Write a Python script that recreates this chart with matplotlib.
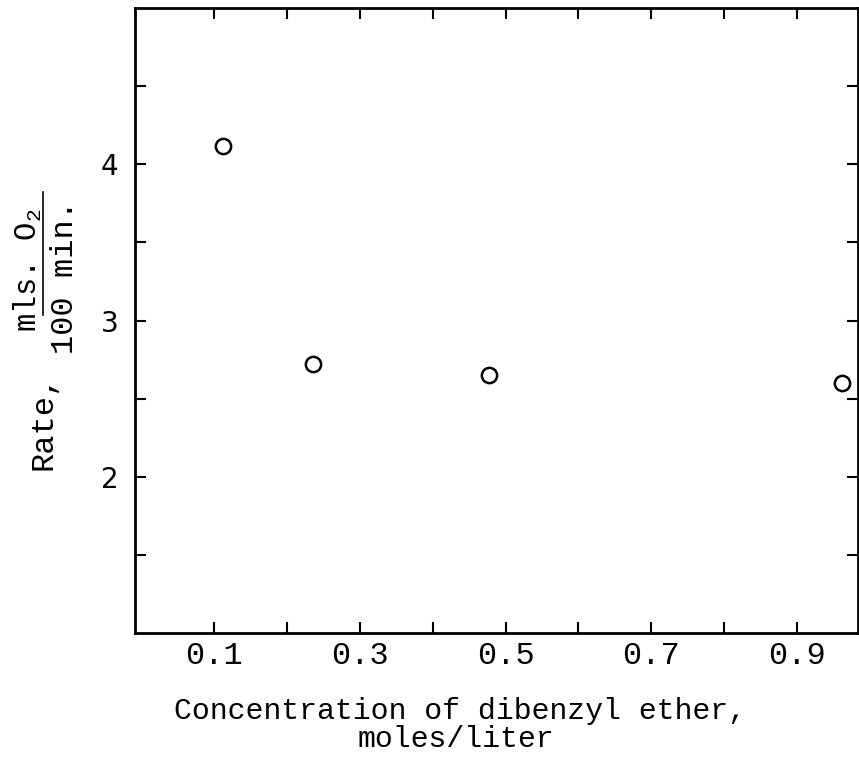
import matplotlib
matplotlib.use("Agg")
import matplotlib.pyplot as plt
from matplotlib.lines import Line2D

# Data
concentration = [0.112, 0.236, 0.477, 0.962]
rate = [4.12, 2.72, 2.65, 2.60]

x_ticks = [0.1, 0.2, 0.3, 0.4, 0.5, 0.6, 0.7, 0.8, 0.9]
x_tick_labels = ["0.1", "", "0.3", "", "0.5", "", "0.7", "", "0.9"]
y_ticks = [1.5, 2.0, 2.5, 3.0, 3.5, 4.0, 4.5]
y_tick_labels = ["", "2", "", "3", "", "4", ""]

mono = "Liberation Mono"
plt.rcParams["font.family"] = [mono, "DejaVu Sans Mono"]
plt.rcParams["mathtext.fontset"] = "custom"
plt.rcParams["mathtext.rm"] = mono
plt.rcParams["mathtext.tt"] = mono

fig = plt.figure(figsize=(8.59, 7.6), dpi=100)
ax = fig.add_axes([135 / 859, 1 - 633 / 760, (858 - 135) / 859, (633 - 8) / 760])

ax.plot(concentration, rate, linestyle="none", marker="o", markersize=11,
        markerfacecolor="none", markeredgecolor="black", markeredgewidth=1.8)

ax.set_xlim(-0.009, 0.984)
ax.set_ylim(1.0, 5.0)

ax.set_xticks(x_ticks)
ax.set_xticklabels(x_tick_labels, fontsize=23)
ax.set_yticks(y_ticks)
ax.set_yticklabels(y_tick_labels, fontsize=20, family="DejaVu Sans")

ax.tick_params(axis="both", direction="in", length=8, width=1.5,
               top=True, right=True)
ax.tick_params(axis="x", pad=6)
ax.tick_params(axis="y", pad=12)

for s in ax.spines.values():
    s.set_linewidth(2.0)

# x label (two lines, typewriter)
fig.text(460 / 859, 1 - 711 / 760, "Concentration of dibenzyl ether,",
         ha="center", va="center", fontsize=21.5)
fig.text(456 / 859, 1 - 739 / 760, "moles/liter",
         ha="center", va="center", fontsize=21.5)

# y label: "Rate," followed by a fraction
fig.text(44 / 859, 1 - 422 / 760, "Rate,", rotation=90,
         ha="center", va="center", fontsize=23)
fig.text(28 / 859, 1 - 270 / 760, "mls. O$_2$", rotation=90,
         ha="center", va="center", fontsize=22)
fig.text(65 / 859, 1 - 277 / 760, "100 min.", rotation=90,
         ha="center", va="center", fontsize=23)
fig.add_artist(Line2D([43 / 859, 43 / 859], [1 - 192 / 760, 1 - 315 / 760],
                      transform=fig.transFigure, color="black", linewidth=1.2))

fig.savefig("out.png", dpi=100, facecolor="white")
